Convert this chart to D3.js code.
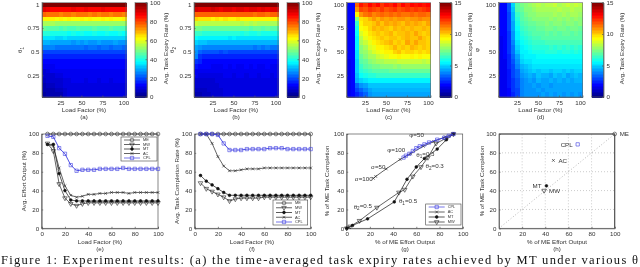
<!DOCTYPE html>
<meta charset="utf-8">
<script src="https://d3js.org/d3.v7.min.js"></script>
<style>
html, body { margin: 0; padding: 0; background: #fff; overflow: hidden; }
svg { display: block; filter: blur(0.4px); }
text { font-family: "Liberation Sans", Arial, sans-serif; fill: #333; font-size: 6.2px; }
.axis path, .axis line { stroke: #555; stroke-width: 0.7; }
.caption { font-family: "Liberation Serif", serif; font-size: 12.5px; fill: #111; }
</style>
<div id="chart"></div>
<script>
// --- data ---
var loadFactors = [5,10,15,20,25,30,35,40,45,50,55,60,65,70,75,80,85,90,95,100];
var rowLevels = [100,95,90,85,80,75,70,65,60,55,50,45,40,35,30,25,20,15,10,5];

var heatA = [
[100,100,100,100,100,100,100,100,100,100,100,100,100,100,100,100,100,100,100,100],
[90,88,87,86,87,87,86,88,87,86,88,87,86,87,88,86,87,86,87,87],
[77,76,75,76,74,75,75,74,75,76,75,74,75,74,75,76,74,75,75,74],
[64,64,63,62,63,62,63,62,62,63,62,63,62,62,63,62,63,62,62,63],
[54,54,54,53,53,53,52,53,53,52,53,52,53,53,52,53,52,53,53,52],
[47,46,46,46,45,46,45,45,46,45,45,45,46,45,45,45,46,45,45,45],
[41,41,40,40,40,40,39,40,39,40,39,39,40,39,39,40,39,39,40,39],
[35,35,35,34,34,35,34,34,34,34,33,34,34,33,34,34,33,34,34,33],
[30,30,29,29,29,29,29,28,29,28,29,28,28,29,28,28,28,29,28,28],
[25,25,25,24,24,24,24,24,24,24,23,24,24,23,24,24,23,24,24,23],
[20,20,20,20,20,20,19,20,19,19,20,19,19,19,20,19,19,19,19,19],
[16,16,16,16,16,16,16,16,16,16,16,16,16,16,16,16,16,16,16,16],
[14,14,14,14,14,14,14,14,14,14,14,14,14,14,14,14,14,14,14,14],
[12,12,12,13,13,13,13,13,13,13,13,13,13,13,13,13,13,13,13,13],
[9,10,11,11,12,12,12,12,12,12,12,12,12,12,12,12,12,12,12,12],
[8,9,9,10,10,11,11,11,11,11,11,11,11,11,11,11,11,11,11,11],
[7,8,8,9,9,10,10,11,11,11,10,11,11,10,11,11,10,11,11,11],
[6,7,7,8,8,10,10,10,10,10,10,10,10,10,10,10,10,10,10,10],
[5,6,6,7,7,9,10,10,10,10,10,10,10,10,10,10,10,10,10,10],
[4,6,6,6,6,9,10,10,10,10,10,10,10,10,10,10,10,10,10,10]
];
var heatB = [
[100,100,100,100,100,100,100,100,100,100,100,100,100,100,100,100,100,100,100,100],
[91,90,90,90,91,90,89,90,90,89,90,90,89,90,90,89,90,89,90,90],
[78,78,77,78,77,78,77,77,78,77,77,78,77,77,76,77,77,76,77,77],
[66,65,65,65,64,65,64,65,64,64,65,64,64,64,64,63,64,64,64,63],
[57,56,56,56,56,55,55,55,55,55,55,54,55,54,55,54,54,54,54,54],
[49,49,48,48,48,48,47,47,47,47,47,47,47,46,47,47,46,47,46,46],
[43,43,42,42,42,41,41,41,41,41,41,40,41,40,40,41,40,40,40,40],
[38,37,37,37,36,36,36,36,35,36,35,35,35,35,35,35,35,35,35,35],
[33,32,32,31,31,31,31,30,31,30,30,30,30,30,30,30,30,30,30,30],
[29,27,26,26,26,25,25,25,25,25,25,25,25,25,24,25,24,25,24,24],
[27,22,21,21,21,21,20,21,20,20,20,20,20,20,20,20,20,20,20,20],
[25,18,17,17,17,17,17,17,16,17,17,16,17,17,16,17,16,17,16,16],
[18,16,14,14,14,14,14,14,14,14,14,14,14,14,14,14,14,14,14,14],
[15,14,13,13,12,12,12,13,12,13,12,12,13,12,13,12,12,13,12,12],
[12,12,11,11,11,11,12,11,11,12,11,11,11,11,11,12,11,11,11,11],
[11,10,10,10,10,10,10,11,11,10,11,11,10,11,11,10,11,11,10,11],
[9,9,9,9,9,10,10,10,10,10,10,10,10,10,10,10,10,10,10,10],
[8,8,8,8,9,9,10,10,10,10,10,10,10,10,10,10,10,10,10,10],
[7,7,7,8,8,9,9,10,10,10,10,10,10,10,10,10,10,10,10,10],
[6,6,7,7,8,8,9,10,10,10,10,10,10,10,10,10,10,10,10,10]
];
var heatC = [
[1.9,1.9,11.5,12.8,12.4,13,12.6,13,12.4,12.8,12.6,13,12.4,12.9,12.6,13,12.8,13.1,12.8,13],
[1.9,1.9,11,12,11.8,12.2,12,11.9,12.2,11.8,12,12.3,11.9,12.1,12.4,12,12.3,12,12.2,12.5],
[1.9,1.9,9.5,11,11.3,11.5,11.2,11.4,11.6,11.3,11.5,11.3,11.6,11.4,11.3,11.6,11.4,11.5,11.7,11.4],
[1.9,1.9,7.5,9.8,10,10.4,10.8,10.5,10.9,10.6,11,10.7,10.9,11,10.7,11,10.8,11.1,10.9,11],
[1.9,2,6.4,9.4,9.9,10,10.2,10.6,10.3,10.7,10.4,10.6,10.5,10.2,10.6,10.4,10.7,10.5,10.3,10.6],
[1.9,2,6,9.2,9.6,9.9,10.4,10.1,10.5,10.2,10,10.4,10.2,10.5,10.1,10.4,10.2,10.1,10.4,10.2],
[1.9,2,5.7,8.8,9.3,9.7,9.9,10.3,10,10.2,10.4,10,10.3,10.1,10.4,10.2,10.6,10.1,10,10.2],
[1.9,2,5.6,8.4,9,9.4,9.8,10,10.2,9.9,10.1,10.3,10,10.2,10.5,10.3,10.1,10.6,10.2,10],
[1.9,2,5.5,8,8.6,9.1,9.5,9.8,9.9,10.1,10.4,9.9,10.3,10,10.6,10.2,10.7,10.1,10.3,10],
[1.9,2,5.4,7.7,8.2,8.7,9,9.4,9.6,9.8,10,10.4,10,10.3,10,10.4,10.2,10,10.1,9.9],
[1.9,2,5.3,7.5,7.9,8.4,8.7,9,9.3,9.6,9.6,9.9,10.3,9.8,9.9,10,9.8,10,9.7,9.9],
[1.9,2,5.2,7.1,7.6,8,8.2,8.5,8.8,9,9.2,9.2,9.4,9.3,9.2,9.4,9.3,9.4,9.2,9.3],
[1.8,2,5.1,6.8,7.2,7.5,7.8,8,8.1,8.3,8.4,8.4,8.5,8.6,8.5,8.6,8.5,8.6,8.4,8.5],
[1.8,2,5,6.5,6.9,7.1,7.3,7.4,7.5,7.6,7.7,7.8,7.7,7.9,7.8,7.9,7.8,7.9,7.8,7.8],
[1.8,2,5,6.2,6.5,6.7,6.8,6.9,7,7,7.1,7.1,7.2,7.2,7.1,7.2,7.1,7.2,7.1,7.1],
[1.8,1.9,4.8,5.7,6,6.2,6.3,6.4,6.4,6.4,6.4,6.4,6.4,6.5,6.4,6.4,6.5,6.4,6.4,6.4],
[1.8,1.9,4.5,5,5.2,5.4,5.5,5.5,5.5,5.5,5.6,5.5,5.5,5.4,5.5,5.5,5.4,5.5,5.5,5.4],
[1.8,1.9,3.5,4,4.4,4.8,4.8,4.9,4.9,4.9,4.8,4.9,4.9,4.8,4.9,4.9,4.8,4.9,4.9,4.8],
[1.8,1.9,3,3.4,3.8,4.4,4.5,4.5,4.5,4.5,4.5,4.5,4.5,4.5,4.5,4.5,4.5,4.5,4.5,4.5],
[1.8,1.9,2.5,3,3.4,4.2,4.4,4.4,4.4,4.4,4.4,4.4,4.4,4.4,4.4,4.4,4.4,4.4,4.4,4.4]
];
var heatD = [
[1.9,1.9,3.2,5,7,7.4,7.7,7.9,8.2,8.3,8.1,8.4,8.3,8.5,8.2,8.4,8.6,8.3,8.5,8.3],
[1.9,1.9,3.1,4.8,6.8,7.2,7.5,7.7,7.9,8,8.1,8,8.2,8.1,8.3,8.1,8.2,8.3,8.2,8.1],
[1.9,1.9,3,4.6,6.5,7,7.3,7.5,7.6,7.8,7.9,7.8,7.9,8,7.9,8,7.8,8,8.1,7.9],
[1.9,1.9,3,4.5,6.2,6.8,7.1,7.3,7.5,7.5,7.7,7.6,7.8,7.7,7.8,7.6,7.8,7.7,7.8,7.7],
[1.9,1.9,2.9,4.4,6,6.6,7,7.1,7.2,7.4,7.4,7.5,7.4,7.6,7.5,7.4,7.6,7.5,7.4,7.5],
[1.9,1.9,2.9,4.3,5.8,6.4,6.7,6.9,7,7.2,7.2,7.3,7.3,7.2,7.3,7.4,7.2,7.3,7.3,7.2],
[1.9,1.9,2.8,4.2,5.6,6.2,6.5,6.7,6.8,6.9,7,7.1,7,7.1,7,7.1,7.1,7,7.1,7],
[1.8,1.9,2.8,4,5.4,6,6.3,6.5,6.6,6.7,6.8,6.8,6.9,6.8,6.9,6.8,6.9,6.8,6.8,6.9],
[1.8,1.9,2.7,3.8,5.2,5.8,6,6.2,6.4,6.5,6.5,6.6,6.6,6.7,6.6,6.6,6.7,6.6,6.6,6.6],
[1.8,1.9,2.6,3.7,5,5.6,5.8,6,6.1,6.2,6.3,6.3,6.4,6.3,6.4,6.3,6.4,6.3,6.4,6.3],
[1.8,1.9,2.6,3.6,4.8,5.4,5.6,5.8,5.9,6,6,6.1,6.1,6.1,6,6.1,6.1,6,6.1,6],
[1.8,1.9,2.5,3.4,4.4,5.2,5.4,5.5,5.6,5.7,5.7,5.8,5.8,5.8,5.7,5.8,5.8,5.7,5.8,5.7],
[1.8,1.8,2.4,3.2,4.1,5,5.2,5.3,5.4,5.4,5.5,5.5,5.5,5.5,5.5,5.5,5.5,5.5,5.5,5.5],
[1.8,1.8,2.4,3,3.8,4.6,4.9,5,5.2,5.2,5.3,5.3,5.3,5.2,5.3,5.3,5.2,5.3,5.3,5.2],
[1.8,1.8,2.3,2.9,3.5,4.3,4.6,4.7,5,4.9,5,5,4.8,5,5,4.8,5,4.9,5,5],
[1.8,1.8,2.3,2.9,3.3,4.1,4.3,4.5,4.4,4.7,4.5,4.6,4.4,4.7,4.5,4.7,4.4,4.6,4.7,4.6],
[1.8,1.8,2.2,2.8,3.2,3.9,4.2,4.3,4.2,4.5,4.3,4.4,4.5,4.3,4.5,4.4,4.5,4.3,4.5,4.5],
[1.8,1.8,2.2,2.7,3.1,3.8,4.1,4.2,4.3,4.2,4.4,4.3,4.2,4.4,4.3,4.4,4.3,4.4,4.3,4.4],
[1.8,1.8,2.1,2.6,3,3.8,4.1,4.2,4.2,4.3,4.2,4.3,4.3,4.3,4.3,4.3,4.3,4.3,4.3,4.3],
[1.8,1.8,2.1,2.5,2.9,3.8,4.1,4.2,4.2,4.2,4.3,4.2,4.3,4.2,4.3,4.2,4.3,4.2,4.3,4.2]
];

var effortME  = [100,100,100,100,100,100,100,100,100,100,100,100,100,100,100,100,100,100,100,100];
var effortMW  = [90,82,47,32,26,24,26,27,27,27,27,27,27,27,27,27,27,27,27,27];
var effortMT  = [89,89,58,40,30,29,29,29,29,29,29,29,29,29,29,29,29,29,29,29];
var effortAC  = [89,87,64,45,35,33,34,36,36,37,37,38,38,38,37,38,38,38,38,38];
var effortCPL = [98,97,85,79,67,61,62,62,62,63,63,63,63,64,63,63,63,63,63,63];

var doneME  = [100,100,100,100,100,100,100,100,100,100,100,100,100,100,100,100,100,100,100,100];
var doneMW  = [48,42,39,36,33,29,31,32,32,32,32,33,33,33,33,33,33,33,33,33];
var doneMT  = [56,50,46,42,38,35,35,35,35,35,35,35,35,35,35,35,35,35,35,35];
var doneAC  = [100,100,90,76,66,61,61,62,63,63,63,64,64,64,64,64,64,64,64,64];
var doneCPL = [100,100,100,99,90,83,83,83,84,84,84,84,85,85,85,84,84,84,84,84];

// panel (g): [% effort, % completion]
var tradeCPL = [[49,75],[51,77],[54,79],[57,82],[60,85],[63,87],[67,89],[71,91],[78,94],[84,96],[88,98],[92,100]];
var tradeAC  = [[23,53],[25,55],[34,63],[46,73],[55,79],[66,87],[75,92],[85,97],[92,100]];
var tradeMT  = [[0,0],[5,3],[18,10],[41,28],[52,52],[60,65],[67,74],[78,84],[86,94],[92,100]];
var tradeMW  = [[0,0],[3,2],[11,8],[26,22],[45,38],[50,41],[57,55],[64,65],[70,75],[77,90],[85,95],[92,100]];
var tradeNotes = [["φ","","=50",54,99],["φ","","=100",35,83],["σ","","=50",21,65],["σ","","=100",7,52],
  ["θ","1","=0.3",60,78],["θ","2","=0.3",68,66],["θ","1","=0.5",45,29],["θ","2","=0.5",6,23]];

// panel (h)
var avgNames = ["ME","CPL","AC","MT","MW"];
var avgEffort = [100,68,47,41,39];
var avgDone = [100,89,72,45,40];

var legendNames = ["ME","MW","MT","AC","CPL"];

// --- page ---
var svg = d3.select("#chart").append("svg").attr("width", 640).attr("height", 267);

// MATLAB jet, 64 levels
var jet = d3.scaleLinear()
    .domain([0, 0.125, 0.375, 0.625, 0.875, 1])
    .range(["#000080", "#0000ff", "#00ffff", "#ffff00", "#ff0000", "#800000"]);

function label(x, y, str, anchor, rotate) {
  var t = svg.append("text").attr("text-anchor", anchor || "middle").attr("dy", ".35em").text(str);
  t.attr("transform", "translate(" + x + "," + y + ")" + (rotate ? " rotate(-90)" : ""));
  return t;
}

function subLabel(x, y, main, sub, rest, anchor, rotate) {
  var t = label(x, y, main, anchor, rotate);
  if (sub) t.append("tspan").attr("dy", "0.3em").style("font-size", "4.6px").text(sub);
  if (rest) t.append("tspan").attr("dy", sub ? "-0.3em" : 0).text(rest);
  return t;
}

function heatPanel(left, matrix, vmax, barTicks, rowTicks, rowFormat, rowName, rowSub, tag) {
  var top = 2.5, bottom = 97, right = left + 84;
  var x = d3.scaleBand().domain(loadFactors).range([left, right]);
  var y = d3.scaleBand().domain(rowLevels).range([top, bottom]);
  var level = function(v) { return Math.min(63, Math.floor(v / vmax * 64)) / 63; };

  var g = svg.append("g").attr("shape-rendering", "crispEdges");
  matrix.forEach(function(row, i) {
    g.selectAll(null).data(row).enter().append("rect")
        .attr("x", function(d, j) { return x(loadFactors[j]); })
        .attr("y", y(rowLevels[i]))
        .attr("width", x.bandwidth() + 0.5)
        .attr("height", y.bandwidth() + 0.5)
        .attr("fill", function(d) { return jet(level(d)); });
  });

  svg.append("g").attr("class", "axis").attr("transform", "translate(0," + bottom + ")")
      .call(d3.axisBottom(x).tickValues([25, 50, 75, 100]).tickSize(-1.5).tickPadding(3.5));
  svg.append("g").attr("class", "axis").attr("transform", "translate(" + left + ",0)")
      .call(d3.axisLeft(y).tickValues(rowTicks).tickFormat(rowFormat).tickSize(-1.5).tickPadding(2.5));
  svg.append("rect").attr("x", left).attr("y", top).attr("width", right - left).attr("height", bottom - top)
      .attr("fill", "none").attr("stroke", "#666").attr("stroke-width", 0.6);

  label((left + right) / 2, 110, "Load Factor (%)");
  label((left + right) / 2, 117, tag);
  subLabel(left - 22, 50, rowName, rowSub, "", "middle", true);

  // colour bar
  var bx = left + 93, bw = 12;
  var by = d3.scaleLinear().domain([0, vmax]).range([bottom, top]);
  var levels = d3.range(64);
  svg.append("g").attr("shape-rendering", "crispEdges").selectAll("rect").data(levels).enter().append("rect")
      .attr("x", bx).attr("width", bw)
      .attr("y", function(d) { return by((d + 1) / 64 * vmax); })
      .attr("height", (bottom - top) / 64 + 0.5)
      .attr("fill", function(d) { return jet(d / 63); });
  svg.append("g").attr("class", "axis").attr("transform", "translate(" + (bx + bw) + ",0)")
      .call(d3.axisRight(by).tickValues(barTicks).tickSize(-1.5).tickPadding(3));
  svg.append("rect").attr("x", bx).attr("y", top).attr("width", bw).attr("height", bottom - top)
      .attr("fill", "none").attr("stroke", "#666").attr("stroke-width", 0.6);
  label(bx + 30.5, 48.5, "Avg. Task Expiry Rate (%)", "middle", true);
}

var pct = function(d) { return d; };
var frac = function(d) { return d / 100; };
heatPanel(42, heatA, 100, [0,20,40,60,80,100], [100,75,50,25], frac, "θ", "1", "(a)");
heatPanel(194, heatB, 100, [0,20,40,60,80,100], [100,75,50,25], frac, "θ", "2", "(b)");
heatPanel(346.5, heatC, 15, [0,5,10,15], [100,75,50,25], pct, "σ", "", "(c)");
heatPanel(498.5, heatD, 15, [0,5,10,15], [100,75,50,25], pct, "φ", "", "(d)");

// --- line panels ---
var styles = {
  ME:  {type: d3.symbolCircle, size: 11, color: "#333", fill: "none"},
  MW:  {type: d3.symbolTriangle, size: 9, color: "#222", fill: "none", flip: true},
  MT:  {type: d3.symbolCircle, size: 6, color: "#111", fill: "#111"},
  AC:  {type: d3.symbolTimes, size: 6, color: "#222", fill: "none"},
  CPL: {type: d3.symbolSquare, size: 11, color: "#3c3ce0", fill: "none"}
};

function marker(parent, name, px, py) {
  var s = styles[name];
  parent.append("path")
      .attr("d", d3.symbol().type(s.type).size(s.size)())
      .attr("transform", "translate(" + px + "," + py + ")" + (s.flip ? " rotate(180)" : ""))
      .attr("fill", s.fill).attr("stroke", s.color).attr("stroke-width", 0.6);
}

function framePanel(left, right, grid) {
  var x = d3.scaleLinear().domain([0, 100]).range([left, right]);
  var y = d3.scaleLinear().domain([0, 100]).range([228.3, 134]);
  var vals = [0,20,40,60,80,100];
  if (grid) {
    var g = svg.append("g").attr("stroke", "#aaa").attr("stroke-width", 0.6).attr("stroke-dasharray", "1,2");
    vals.slice(1, 5).forEach(function(v) {
      g.append("line").attr("x1", x(v)).attr("x2", x(v)).attr("y1", y(0)).attr("y2", y(100));
      g.append("line").attr("x1", x(0)).attr("x2", x(100)).attr("y1", y(v)).attr("y2", y(v));
    });
  }
  svg.append("g").attr("class", "axis").attr("transform", "translate(0,228.3)")
      .call(d3.axisBottom(x).tickValues(vals).tickSize(-1.5).tickPadding(3));
  svg.append("g").attr("class", "axis").attr("transform", "translate(" + left + ",0)")
      .call(d3.axisLeft(y).tickValues(vals).tickSize(-1.5).tickPadding(2.5));
  svg.append("rect").attr("x", left).attr("y", 134).attr("width", right - left).attr("height", 94.3)
      .attr("fill", "none").attr("stroke", "#555").attr("stroke-width", 0.7);
  return {x: x, y: y};
}

function drawSeries(p, name, pts) {
  var s = styles[name];
  var line = d3.line().x(function(d) { return p.x(d[0]); }).y(function(d) { return p.y(d[1]); });
  svg.append("path").attr("d", line(pts)).attr("fill", "none")
      .attr("stroke", s.color).attr("stroke-width", name == "CPL" ? 0.9 : 0.7);
  pts.forEach(function(d) { marker(svg, name, p.x(d[0]), p.y(d[1])); });
}

function legend(x0, y0, x1, y1, names) {
  svg.append("rect").attr("x", x0).attr("y", y0).attr("width", x1 - x0).attr("height", y1 - y0)
      .attr("fill", "#fff").attr("stroke", "#444").attr("stroke-width", 0.6);
  var ly = d3.scalePoint().domain(names).range([y0 + 3, y1 - 3]);
  names.forEach(function(n) {
    svg.append("line").attr("x1", x0 + 3).attr("x2", x0 + 19)
        .attr("y1", ly(n)).attr("y2", ly(n))
        .attr("stroke", styles[n].color).attr("stroke-width", 0.7);
    marker(svg, n, x0 + 11, ly(n));
    label(x0 + 22, ly(n), n, "start").style("font-size", "3.9px");
  });
}

function zipLoad(vals) { return vals.map(function(v, i) { return [loadFactors[i], v]; }); }

// (e)
var pe = framePanel(41.7, 158);
[["ME",effortME],["MW",effortMW],["MT",effortMT],["AC",effortAC],["CPL",effortCPL]].forEach(function(s) {
  drawSeries(pe, s[0], zipLoad(s[1]));
});
legend(121, 137, 157, 161, legendNames);
label(100, 241.5, "Load Factor (%)");
label(100, 248.5, "(e)");
label(24, 181, "Avg. Effort Output (%)", "middle", true);

// (f)
var pf = framePanel(194.7, 310.7);
[["ME",doneME],["MW",doneMW],["MT",doneMT],["AC",doneAC],["CPL",doneCPL]].forEach(function(s) {
  drawSeries(pf, s[0], zipLoad(s[1]));
});
legend(273, 200, 307.7, 225, legendNames);
label(252, 241.5, "Load Factor (%)");
label(252, 248.5, "(f)");
label(177, 181, "Avg. Task Completion Rate (%)", "middle", true);

// (g)
var pg = framePanel(346.7, 462.7);
drawSeries(pg, "MW", tradeMW);
drawSeries(pg, "MT", tradeMT);
drawSeries(pg, "AC", tradeAC);
drawSeries(pg, "CPL", tradeCPL);
legend(425.7, 204, 461, 225, ["CPL","AC","MT","MW"]);
tradeNotes.forEach(function(n) {
  subLabel(pg.x(n[3]), pg.y(n[4]), n[0], n[1], n[2], "start");
});
label(405, 241.5, "% of ME Effort Output");
label(405, 248.5, "(g)");
label(327, 181, "% of ME Task Completion", "middle", true);

// (h)
var ph = framePanel(499, 614.7, true);
svg.append("line").attr("x1", ph.x(0)).attr("y1", ph.y(0)).attr("x2", ph.x(100)).attr("y2", ph.y(100))
    .attr("stroke", "#999").attr("stroke-width", 0.7).attr("stroke-dasharray", "1,2");
svg.append("path").attr("d", d3.line()([[ph.x(0), ph.y(100)], [ph.x(100), ph.y(100)], [ph.x(100), ph.y(0)]]))
    .attr("fill", "none").attr("stroke", "#555").attr("stroke-width", 1.1);
var nameSide = {ME: 1, CPL: -1, AC: 1, MT: -1, MW: 1};
avgNames.forEach(function(n, i) {
  marker(svg, n, ph.x(avgEffort[i]), ph.y(avgDone[i]));
  label(ph.x(avgEffort[i]) + nameSide[n] * 5, ph.y(avgDone[i]), n, nameSide[n] > 0 ? "start" : "end");
});
label(557, 241.5, "% of ME Effort Output");
label(557, 248.5, "(h)");
label(482, 181, "% of ME Task Completion", "middle", true);

// caption
svg.append("text").attr("class", "caption").attr("x", 1).attr("y", 263.5)
    .attr("textLength", 637).attr("lengthAdjust", "spacing")
    .text("Figure 1: Experiment results: (a) the time-averaged task expiry rates achieved by MT under various θ");
</script>
